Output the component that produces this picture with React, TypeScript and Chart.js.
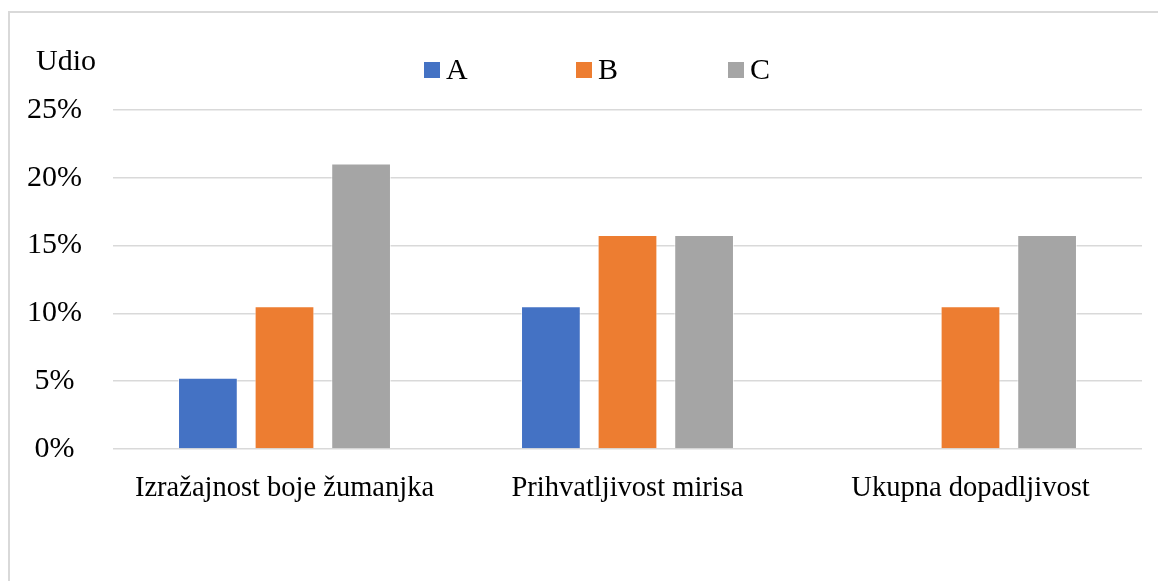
import React, { useEffect, useRef } from "react";
import { Chart, registerables } from "chart.js";

Chart.register(...registerables);

const categories = ["Izražajnost boje žumanjka", "Prihvatljivost mirisa", "Ukupna dopadljivost"];
const seriesNames = ["A", "B", "C"];
const valuesA = [5.26, 10.53, 0];
const valuesB = [10.53, 15.79, 10.53];
const valuesC = [21.05, 15.79, 15.79];
const colors = ["#4472C4", "#ED7D31", "#A5A5A5"];
const yTicks = [0, 5, 10, 15, 20, 25];
const yTitle = "Udio";

const FONT = "'Liberation Serif', 'Times New Roman', serif";
const FS = 30;
const FSX = 28.5;

const legendPlugin = {
  id: "customLegend",
  afterDraw(chart: any) {
    const ctx = chart.ctx;
    const area = chart.chartArea;
    ctx.save();
    ctx.font = `${FS}px ${FONT}`;
    ctx.textBaseline = "middle";
    ctx.fillStyle = "#000";
    const y = area.top - 40;
    let x = area.left + 311;
    chart.data.datasets.forEach((ds: any) => {
      ctx.fillStyle = ds.backgroundColor;
      ctx.fillRect(x, y - 8, 16, 16);
      ctx.fillStyle = "#000";
      ctx.textAlign = "left";
      ctx.fillText(ds.label, x + 22, y + 1);
      x += 152;
    });
    // y axis title
    ctx.textAlign = "center";
    ctx.fillText(yTitle, 66, area.top - 48);
    ctx.restore();
  },
};

export default function App() {
  const ref = useRef<HTMLCanvasElement | null>(null);
  useEffect(() => {
    if (!ref.current) return;
    const chart = new Chart(ref.current, {
      type: "bar",
      data: {
        labels: categories,
        datasets: [valuesA, valuesB, valuesC].map((vals, i) => ({
          label: seriesNames[i],
          data: vals,
          backgroundColor: colors[i],
          borderColor: "rgba(255,255,255,0.6)",
          borderWidth: 1,
          categoryPercentage: 0.67,
          barPercentage: 0.78,
        })),
      },
      options: {
        animation: false,
        responsive: true,
        maintainAspectRatio: false,
        layout: { padding: { top: 110, right: 16, left: 0, bottom: 0 } },
        plugins: { legend: { display: false }, tooltip: { enabled: false } },
        scales: {
          x: {
            grid: { display: false, drawTicks: false },
            border: { display: false },
            ticks: { color: "#000", font: { family: FONT, size: FSX }, padding: 22, maxRotation: 0 },
            afterFit: (s: any) => {
              s.height = 132;
            },
          },
          y: {
            min: 0,
            max: 25,
            afterBuildTicks: (s: any) => {
              s.ticks = yTicks.map((v) => ({ value: v }));
            },
            grid: { color: "#d9d9d9", lineWidth: 1.5, drawTicks: false },
            border: { display: false },
            ticks: {
              color: "#000",
              font: { family: FONT, size: FS },
              padding: 31,
              crossAlign: "center",
              callback: (v: any) => `${v}%`,
            },
            afterFit: (s: any) => {
              s.width = 113;
            },
          },
        },
      },
      plugins: [legendPlugin],
    });
    return () => chart.destroy();
  }, []);
  return (
    <>
      <div
        style={{
          position: "fixed",
          left: 8,
          top: 11,
          width: 1150,
          height: 570,
          borderTop: "2px solid #d9d9d9",
          borderLeft: "2px solid #d9d9d9",
          boxSizing: "border-box",
        }}
      />
      <div style={{ position: "fixed", left: 0, top: 0, width: 1158, height: 581 }}>
        <canvas ref={ref} />
      </div>
    </>
  );
}
